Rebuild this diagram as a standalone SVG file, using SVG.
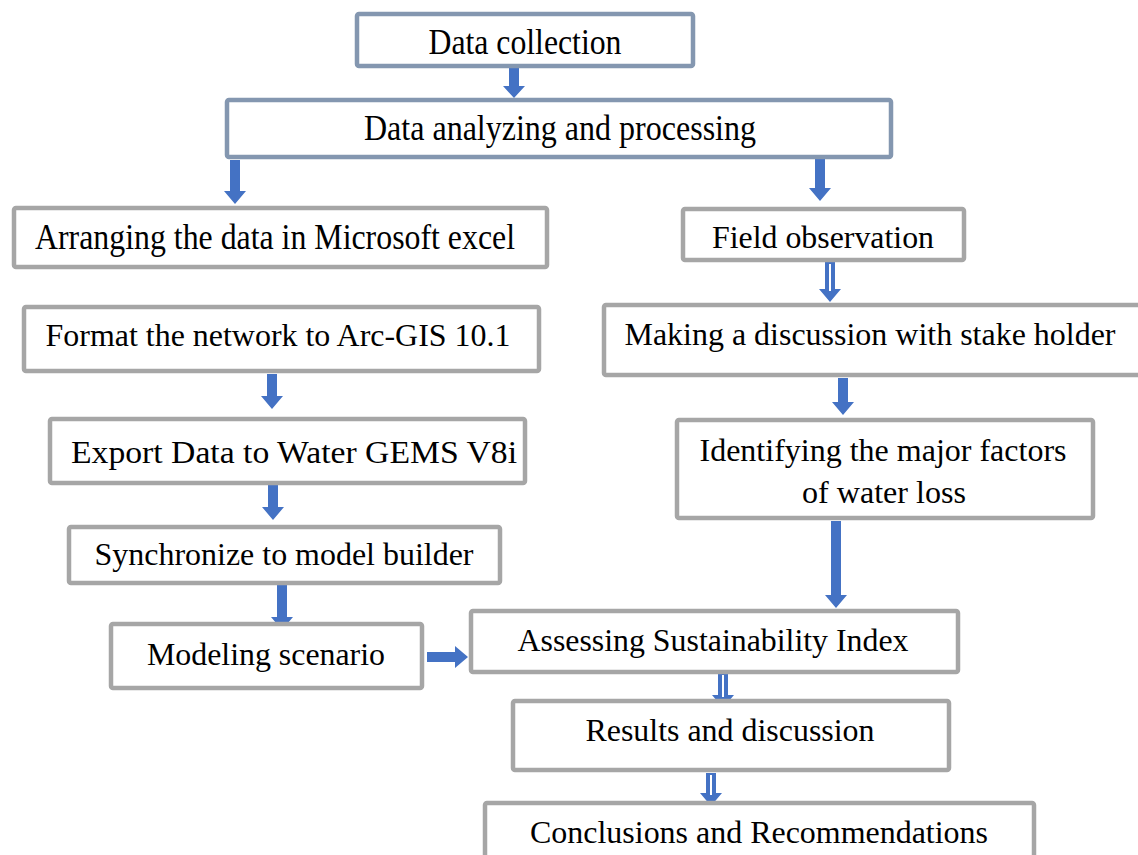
<svg xmlns="http://www.w3.org/2000/svg" width="1138" height="855" viewBox="0 0 1138 855">
<style>
.bx{fill:#ffffff;stroke:#a6a6a6;stroke-width:4.5}
.bt{fill:#ffffff;stroke:#8497b0;stroke-width:4.5}
.t{font-family:'Liberation Serif','Times New Roman',Times,serif;font-size:32px;fill:#000000;text-anchor:middle}
.big{font-size:35px}
.ar{fill:#4472c4}
.in{fill:#ffffff}
</style>
<rect width="1138" height="855" fill="#ffffff"/>
<g id="connectors">
<polygon class="ar" points="509,68 519,68 519,86 525,86 514,98 503,86 509,86"/>
<polygon class="ar" points="230,160 240,160 240,191 246,191 235,204 224,191 230,191"/>
<polygon class="ar" points="815,158 825,158 825,188 831,188 820,201 809,188 815,188"/>
<polygon class="ar" points="825,262 835,262 835,289 841,289 830,302 819,289 825,289"/>
<rect class="in" x="829" y="264" width="2" height="27"/>
<polygon class="ar" points="838,378 848,378 848,402 854,402 843,415 832,402 838,402"/>
<polygon class="ar" points="831,521 841,521 841,595 847,595 836,608 825,595 831,595"/>
<polygon class="ar" points="267,374 277,374 277,396 283,396 272,409 261,396 267,396"/>
<polygon class="ar" points="268,485 278,485 278,507 284,507 273,520 262,507 268,507"/>
<polygon class="ar" points="277,585 287,585 287,617 293,617 282,630 271,617 277,617"/>
<polygon class="ar" points="427,652 455,652 455,646 468,657 455,668 455,662 427,662"/>
<polygon class="ar" points="718,673 728,673 728,695 734,695 723,708 712,695 718,695"/>
<rect class="in" x="722" y="675" width="2" height="22"/>
<polygon class="ar" points="706,773 716,773 716,793 722,793 711,806 700,793 706,793"/>
<rect class="in" x="710" y="775" width="2" height="20"/>
</g>
<g id="n1"><rect class="bt" x="357" y="14" width="336" height="52" rx="2"/><text class="t big" x="525" y="54" textLength="193" lengthAdjust="spacingAndGlyphs">Data collection</text></g>
<g id="n2"><rect class="bt" x="227" y="100" width="664" height="57" rx="2"/><text class="t big" x="560" y="140" textLength="392" lengthAdjust="spacingAndGlyphs">Data analyzing and processing</text></g>
<g id="n3"><rect class="bx" x="14" y="208" width="533" height="59" rx="2"/><text class="t big" x="275" y="249" textLength="480" lengthAdjust="spacingAndGlyphs">Arranging the data in Microsoft excel</text></g>
<g id="n4"><rect class="bx" x="683" y="209" width="281" height="51" rx="2"/><text class="t" x="823" y="248" textLength="222" lengthAdjust="spacingAndGlyphs">Field observation</text></g>
<g id="n5"><rect class="bx" x="24" y="307" width="515" height="64" rx="2"/><text class="t" x="278" y="346" textLength="465" lengthAdjust="spacingAndGlyphs">Format the network to Arc-GIS 10.1</text></g>
<g id="n6"><rect class="bx" x="604" y="305" width="540" height="70" rx="2"/><text class="t" x="870" y="345" textLength="491" lengthAdjust="spacingAndGlyphs">Making a discussion with stake holder</text></g>
<g id="n7"><rect class="bx" x="50" y="419" width="475" height="64" rx="2"/><text class="t" x="294" y="463" textLength="446" lengthAdjust="spacingAndGlyphs">Export Data to Water GEMS V8i</text></g>
<g id="n8"><rect class="bx" x="677" y="420" width="416" height="98" rx="2"/><text class="t" x="883" y="461" textLength="367" lengthAdjust="spacingAndGlyphs">Identifying the major factors</text><text class="t" x="884" y="503" textLength="164" lengthAdjust="spacingAndGlyphs">of water loss</text></g>
<g id="n9"><rect class="bx" x="69" y="527" width="431" height="56" rx="2"/><text class="t" x="284" y="565" textLength="379" lengthAdjust="spacingAndGlyphs">Synchronize to model builder</text></g>
<g id="n10"><rect class="bx" x="111" y="624" width="311" height="64" rx="2"/><text class="t" x="266" y="665" textLength="238" lengthAdjust="spacingAndGlyphs">Modeling scenario</text></g>
<g id="n11"><rect class="bx" x="471" y="611" width="487" height="61" rx="2"/><text class="t" x="713" y="651" textLength="391" lengthAdjust="spacingAndGlyphs">Assessing Sustainability Index</text></g>
<g id="n12"><rect class="bx" x="513" y="701" width="436" height="69" rx="2"/><text class="t" x="730" y="741" textLength="289" lengthAdjust="spacingAndGlyphs">Results and discussion</text></g>
<g id="n13"><rect class="bx" x="485" y="803" width="549" height="60" rx="2"/><text class="t" x="759" y="843" textLength="458" lengthAdjust="spacingAndGlyphs">Conclusions and Recommendations</text></g>
</svg>
